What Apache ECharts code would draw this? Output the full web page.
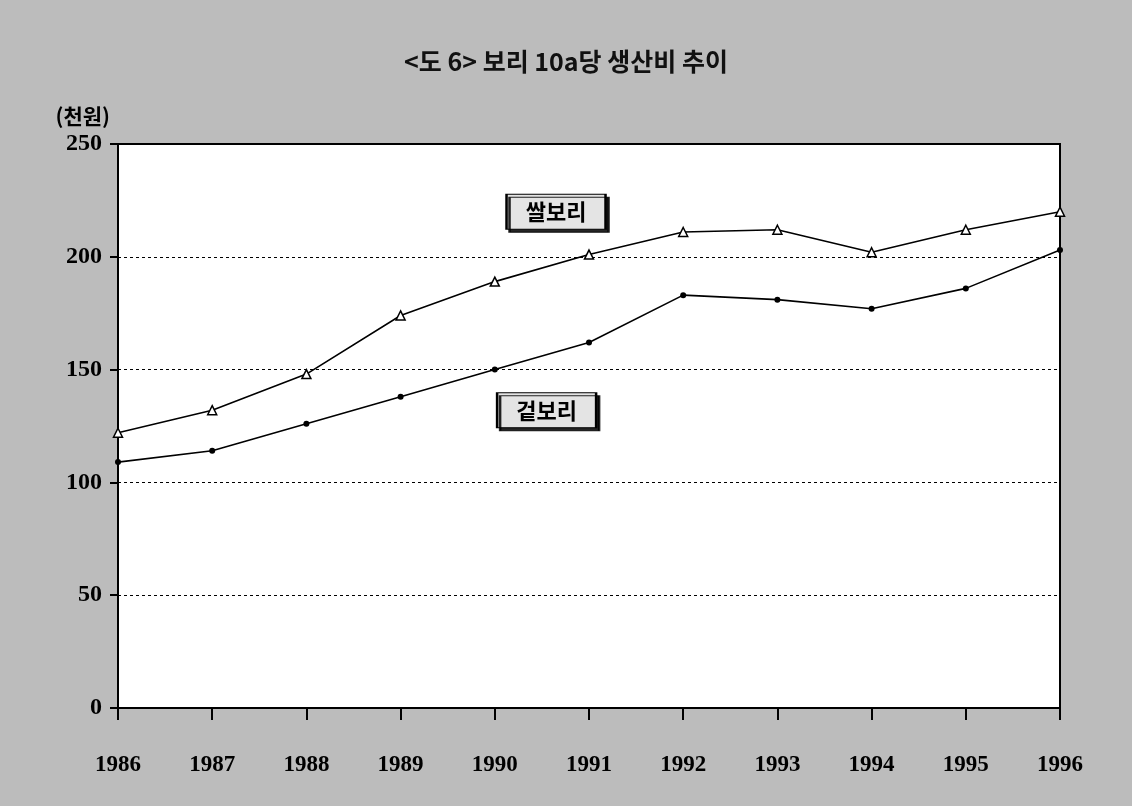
<!DOCTYPE html>
<html>
<head>
<meta charset="utf-8">
<title>보리 10a당 생산비 추이</title>
<script src="https://cdn.jsdelivr.net/npm/echarts@6/dist/echarts.min.js"></script>
<style>
  html, body { margin: 0; padding: 0; background: #bcbcbc; }
  #chart { width: 1132px; height: 806px; }
</style>
</head>
<body>
<div id="chart"></div>
<script>
  // years on the x axis
  var years = [1986, 1987, 1988, 1989, 1990, 1991, 1992, 1993, 1994, 1995, 1996];
  // 쌀보리 (triangles), 천원
  var ssalbori = [122, 132, 148, 174, 189, 201, 211, 212, 202, 212, 220];
  // 겉보리 (dots), 천원
  var geotbori = [109, 114, 126, 138, 150, 162, 183, 181, 177, 186, 203];
  var yTicks = [0, 50, 100, 150, 200, 250];
  var titleText = '<도 6> 보리 10a당 생산비 추이';
  var unitText = '(천원)';

  function pairs(vals) {
    return vals.map(function (v, i) { return [years[i], v]; });
  }

  var serif = '"Liberation Serif", "DejaVu Serif", serif';
  var kr = '"Noto Sans CJK KR", sans-serif';

  var boxStyle = {
    color: '#e4e4e4',
    borderColor: '#000',
    borderWidth: 1.5,
    shadowColor: 'rgba(0,0,0,0.85)',
    shadowBlur: 0,
    shadowOffsetX: 3,
    shadowOffsetY: 3
  };
  var boxLabel = {
    show: true,
    position: 'inside',
    color: '#000',
    fontFamily: kr,
    fontWeight: 'bold',
    fontSize: 22
  };

  var chart = echarts.init(document.getElementById('chart'));
  var option = {
    animation: false,
    backgroundColor: '#bcbcbc',
    title: {
      text: titleText,
      left: 'center',
      top: 44,
      textStyle: {
        fontFamily: kr,
        fontWeight: 'bold',
        fontSize: 25,
        color: '#111'
      }
    },
    grid: {
      left: 118,
      right: 72,
      top: 144,
      bottom: 98,
      show: true,
      backgroundColor: '#fff',
      borderColor: '#000',
      borderWidth: 2
    },
    xAxis: {
      type: 'value',
      min: years[0],
      max: years[years.length - 1],
      interval: 1,
      axisLine: { lineStyle: { color: '#000', width: 2 } },
      axisTick: { show: true, length: 12, lineStyle: { color: '#000', width: 2 } },
      splitLine: { show: false },
      axisLabel: {
        margin: 46,
        color: '#000',
        fontFamily: serif,
        fontWeight: 'bold',
        fontSize: 23,
        formatter: function (v) { return String(v); }
      }
    },
    yAxis: {
      type: 'value',
      min: yTicks[0],
      max: yTicks[yTicks.length - 1],
      interval: 50,
      name: unitText,
      nameLocation: 'end',
      nameGap: 17,
      nameTextStyle: {
        align: 'right',
        padding: [0, 8, 0, 0],
        color: '#000',
        fontFamily: kr,
        fontWeight: 'bold',
        fontSize: 21
      },
      axisLine: { show: true, lineStyle: { color: '#000', width: 2 } },
      axisTick: { show: true, length: 8, lineStyle: { color: '#000', width: 2 } },
      splitLine: { show: true, lineStyle: { color: '#000', width: 1, type: [3, 3] } },
      axisLabel: {
        margin: 16,
        color: '#000',
        fontFamily: serif,
        fontWeight: 'bold',
        fontSize: 24
      }
    },
    series: [
      {
        name: '쌀보리',
        type: 'line',
        data: pairs(ssalbori),
        symbol: 'triangle',
        symbolSize: 9,
        showSymbol: true,
        lineStyle: { color: '#000', width: 1.6 },
        itemStyle: { color: '#fff', borderColor: '#000', borderWidth: 1.5 },
        markPoint: {
          symbol: 'rect',
          symbolSize: [99, 35],
          itemStyle: boxStyle,
          label: boxLabel,
          data: [{ coord: [1990.65, 220], value: '쌀보리', label: { formatter: '쌀보리' } }]
        }
      },
      {
        name: '겉보리',
        type: 'line',
        data: pairs(geotbori),
        symbol: 'circle',
        symbolSize: 6,
        showSymbol: true,
        lineStyle: { color: '#000', width: 1.6 },
        itemStyle: { color: '#000' },
        markPoint: {
          symbol: 'rect',
          symbolSize: [99, 35],
          itemStyle: boxStyle,
          label: boxLabel,
          data: [{ coord: [1990.55, 132], value: '겉보리', label: { formatter: '겉보리' } }]
        }
      }
    ]
  };

  chart.setOption(option);
</script>
</body>
</html>
